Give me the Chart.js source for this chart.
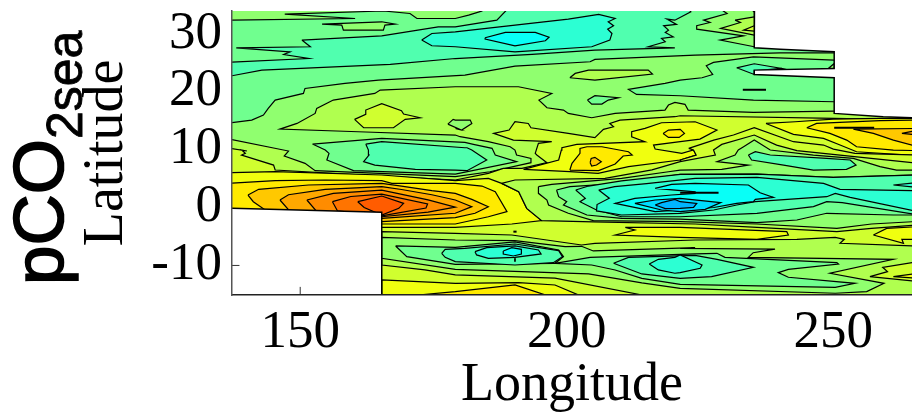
<!DOCTYPE html>
<html><head><meta charset="utf-8">
<script src="https://cdn.jsdelivr.net/npm/chart.js@4"></script>
<style>
html,body{margin:0;padding:0;background:#fff;overflow:hidden}
#wrap{position:relative;width:912px;height:413px}
#ttl{position:absolute;left:0;top:0;white-space:nowrap;font:71px 'Liberation Sans';line-height:77px;color:#000;-webkit-text-stroke:1.6px #000;transform-origin:0 0;transform:translate(0px,285px) rotate(-90deg)}
#ttl span{font-size:50px;position:relative;top:19px;-webkit-text-stroke:0.8px #000}
</style></head><body>
<div id="wrap"><canvas id="c" width="912" height="413"></canvas><div id="ttl">pCO<span>2sea</span></div></div>
<script>
const lonTicks=[150,200,250];
const latTicks=[-10,0,10,20,30];
const xTitle='Longitude', yTitle='Latitude';
const levels={A:'#00B4FF',B:'#00DCFF',C:'#08FFF7',D:'#2CFFD3',E:'#50FFAF',F:'#70FF8F',G:'#90FF6F',H:'#B0FF4F',I:'#D0FF2F',J:'#F0FF0F',K:'#FFEA00',L:'#FFC800',M:'#FFA800',N:'#FF8C00',O:'#FF7400',P:'#FF5C00'};
// contour outlines as lon,lat pairs
const baseF=[136,-16,266,-16,266,35,136,35];
const gTopLeft=[136,35,184.1,35,184.1,33.9,181.6,33.19,179.1,32.61,171.9,32.61,170.6,33.47,165.6,33.9,147.1,33.36,160.3,32.61,136,32.32];
const gSmallTop=[154.1,31.63,157.8,31.46,158.1,30.6,165.6,30.6,165.9,31.46,167.8,31.63,165.3,32.04];
const eNorth=[150.3,28.88,151.9,27.73,138,27.55,148.1,26.86,146.9,26.4,151.6,25.7,136,25.03,136,22.73,137.2,22.73,142.8,23.7,166.9,24.68,179.1,25.7,193.5,26.4,205.3,27.15,220.3,27.55,215.3,27.73,218.5,28.59,217.8,29.16,220,29.45,218.5,30.2,219.1,30.6,218.2,31.35,220.6,31.58,218.8,32.5,220.3,32.32,223.3,33.76,222.2,35,189.7,35,186.9,32.32,179.1,31.17,175.9,31.17,165.3,29.62];
const dNorth=[172.8,28.88,174.7,30.02,179.1,30.31,200.3,32.5,206,33.3,209.1,32.61,207.8,32.04,208.8,31.35,207.7,30.77,208.5,30.02,208.1,28.88,204.7,27.73,190.3,26.86,179.1,27.73,174.7,27.9];
const cNorth=[184.7,29.28,188.5,30.2,194.1,30.2,196.7,29.39,196,28.76,190.3,27.9,184.7,29.05];
const gRightTop=[227.6,35,230.1,33.47,225.7,32.32,226.9,31.92,224.4,31.35,224.4,30.77,233.2,29.62,228.8,28.88,235.2,27.73,240,27.7,240,35];
const hRightTop=[231.6,32.32,232.6,31.92,228.9,30.9,235.2,29.74,240,29.7,240,32.9,235.2,32.9];
const hRightTip=[233.5,35,235.2,33.76,240,33.7,240,35];
const iRightTop=[235.2,31.35,233.2,30.6,235.2,30.43,240,30.4,240,31.35];
const gMain=[136,14.5,140.9,15.08,143.1,15.95,144,17.09,145.3,18.53,150.6,19.68,150.9,20.54,158.4,21.4,164.7,21.98,180.9,22.84,190.3,24.39,204.4,25.14,205.3,25.54,224.1,26.29,240.05,26.69,250.2,26.69,266,26.69,266,-16,136,-16];
const ringTiny=[179.9,18.53,180.2,18.53,180.3,17.8,180,17.5,179.9,17.8];
const hSmall=[200.6,22.38,201.6,23.13,204.1,23.7,215.3,23.7,216.1,23.01,205.3,21.98];
const fTongue=[250.2,25.43,235.05,26,227.55,25.03,226.2,24.45,227.4,22.95,225.4,22.38,221.3,21.98,218.45,21.4,211.6,20.37,213.1,19.51,221.3,19.28,235.05,18.53,250.2,18.24,266,18.2,266,25.4];
const gSlit=[250.2,24.85,249.1,23.99,250.2,23.99];
const ePatchSlit=[231.9,24.1,235.2,24.8,240.4,23.99,235.2,23.6,235.2,22.95];
const fSmall=[203.9,18.53,205.3,19.28,209.7,18.93,207.8,18.53,206.6,17.84,204.7,17.84];
const hMain=[136,11.92,147.8,9.74,147,8.88,150.9,7.61,152.8,6.35,179.1,5.31,185.6,6.17,193.3,7.73,193.3,8.47,190.6,9.05,190.3,9.91,189.4,10.48,185.3,11.35,180,12.21,179.1,12.5,160.9,13.07,146.2,13.53,149.4,14.5,152.8,16.23,153.1,17.09,156.2,18.53,164,19.68,165,20.26,179.1,20.83,190.95,20.83,197.2,19.68,194.8,18.53,196.3,17.21,199.4,16.81,200.3,16.23,204.7,15.48,209.1,16.23,218.45,16.81,219.1,17.67,220.3,18.13,222.2,17.8,222.8,16.81,235.05,16.4,250.2,16.63,266,16.6,266,-16,136,-16];
const iBlob=[160.2,15.2,162.3,16.06,162.3,16.81,165.3,17.9,169,16.69,169.4,16.12,172.5,15.48,169.7,15.2,167.5,13.76,161.9,13.76];
const gSmallMid=[177.7,14.39,178.7,15.2,179.1,15.08,181.9,15.08,182.2,14.5,180.3,13.36,179.1,13.64,180,13.47];
const fTongueWest=[152.3,10.94,165.3,11.92,180.9,11.23,182.5,10.89,186,10.2,186.6,9.05,190.6,7.9,179.1,5.77,160,6.35,155,8.19,155.4,9.34,154.7,9.91];
const eTongueWest=[162.3,10.94,165.3,11.35,180.9,10.31,181.3,10.31,182.2,9.91,185,8.19,181.3,6.35,179.1,6.46,171.6,6.58,164,7.32,161.9,7.9,162.9,9.05,162.8,9.91];
const iMain=[136,10.31,140,9.74,139,9.91,139.7,9.34,139,9.05,145,7.32,145.3,6.46,165.3,5.4,179.1,4.74,185.3,5.89,188.1,6.75,191.6,6.75,196.3,7.73,194.4,9.05,194.1,9.34,194.7,11.06,197.2,11.35,190,11.63,186.3,12.78,189.2,13.36,190.3,14.79,192.8,14.5,193.3,13.76,200.3,12.78,205.3,12.04,206.9,13.47,208.8,13.93,208.1,14.5,210,15.08,220.3,15.66,221.3,15.83,250.2,15.37,266,15.1,266,-16,136,-16];
const jWest=[136,6,145.3,6.17,165.3,5.6,179.1,4.62,185.3,5.02,187.8,4.16,191,2.73,192.5,-0.15,195.3,-2.27,189.7,-2.85,179.1,-3.42,165.3,-3.42,136,-3.42];
const kWest=[136,4.16,145.3,4.62,154.7,4.74,165.3,4.62,167.2,4.16,179.1,4.16,184.1,3.7,186.6,2.73,188.8,-0.72,185.3,-1.6,179.1,-2.85,165.3,-2.85,136,-2.85];
const lWest=[140.2,2.15,142.2,3.13,151.55,3.88,165.3,4.16,169,3.7,174.7,2.9,179.1,2.44,182.2,1.4,185.3,0.14,182.8,-1,179.1,-1.75,165.3,-2.45,143.7,-0.6,141.2,0.99];
const mWest=[146.2,1.29,147.8,2.2,154.7,3.13,165.3,3.6,169,3.1,174.7,2.2,179.1,1.29,182.2,0.14,179.1,-1,165.3,-1.87,148,-0.6];
const nWest=[151.25,1.29,156.2,2.44,165.3,3,174,1.3,179.1,0.05,174,-0.8,165.3,-1.6,153,-0.6];
const oWest=[156.05,1,159.5,1.9,165.3,2.3,173.9,0.6,173.6,-0.1,165.3,-1.45,157,-0.6];
const pWest=[160.8,1,165.3,1.98,169.4,0.71,168.5,-0.15,165.3,-1.3,162,0];
const hSouth=[165.3,-4.17,179.1,-4.46,189.7,-4.75,202.8,-6.47,205.3,-6.18,224.1,-5.61,243.2,-5.49,250.4,-5.15,252.1,-5.49,251.3,-6.18,266,-6.65,266,-16,214.1,-16,214.1,-15.09,197.8,-12.2,179.1,-11.64,173.4,-10.78,165.3,-9.92];
const gSouth=[165.3,-5.15,179.1,-5.61,190.3,-5.72,199.7,-6.76,202.8,-6.7,205,-7.5,224.1,-6.93,221.3,-7.04,239.1,-7.2,235,-7.8,234.1,-8.6,261.3,-8.94,249.4,-11.35,259.55,-13.08,256.3,-14.52,250.4,-14.8,221.3,-13.94,214.1,-13,204.1,-11.47,179.1,-10.67,165.3,-8.77];
const fSouthWest=[167.9,-6.64,170,-8.48,179.1,-9.8,197.8,-9.63,199.4,-8.48,198.5,-7.33,190.3,-5.95,179.1,-6.87];
const eSouthWest=[176.55,-7.91,177.2,-7.22,180.9,-7.04,190.3,-6.3,198.5,-7.45,199.2,-8.48,197.5,-9.52,190.3,-9.92,179.1,-9.34,177.2,-8.6];
const dSouthWest=[182.8,-7.62,185,-6.93,190.3,-6.64,194.7,-7.33,195.2,-8.02,190.3,-8.6,185.3,-8.77,183.1,-8.19];
const cSouthWest=[188.1,-7.5,189.7,-6.93,191.5,-7.22,191.5,-8.02,190,-8.37,188.1,-8.02];
const fSouthEast=[204.4,-8.6,224.1,-8.02,228.2,-7.91,229.7,-8.6,250.7,-9.52,251,-9.75,241.6,-10.67,239.7,-11.24,241.6,-12.04,254.1,-13.08,250.4,-13.77,221.3,-13.25,214.1,-12.22,209.1,-10.78,204.7,-9.92,197.8,-9.63];
const eSouthEast=[208.8,-9.63,211.6,-8.6,224.1,-8.25,228.2,-8.94,235.05,-10.32,227.2,-11.93,221.3,-12.22,214.1,-11.47];
const dSouthEast=[215.5,-9.75,217.2,-8.94,220.3,-8.6,221.3,-8.2,225.4,-9.92,225.05,-10.49,221.3,-11.24,220.3,-11.35,217.2,-10.78];
const iCorner=[256.9,-11.93,260.2,-11.07,259.3,-10.32,266,-9.34,266,-12.79];
const jCorner=[261.3,-11.93,266,-11.35,266,-12.22];
const jBandSouth=[211,-3.42,212.8,-3.88,209.1,-4.75,221.3,-5.15,235.7,-5.49,241.6,-4.75,241.3,-4.17,221.3,-3.42];
const jEastSouth=[257.55,-4.75,260.05,-3.6,266,-3.31,266,-5.49,262.9,-5.49,263.2,-6.18];
const jBottom=[165.3,-12.5,179.1,-13.08,191,-12.96,197.8,-13.37,202.2,-15.09,202.2,-16,165.3,-16];
const kBottom=[179.1,-14.52,190.3,-13.37,196,-15.09,196,-16,172.2,-16,172.2,-15.09];
const jNorthMid=[191.9,6.58,198.5,8.19,199,9.91,199.1,10.31,201.9,10.89,214.7,11.35,212.2,12.21,212.2,13.07,214.7,13.64,217.8,14.62,224.1,14.79,228.2,13.36,225,11.8,221.3,11.35,216.3,10.77,216.6,10.08,221.6,9.34,223.8,9.91,224.3,9.05,221.3,8.19,211.6,7.04,205.9,5.89,200.6,6.17];
const kBlobMid=[200.6,6.46,201,7.61,202.5,9.34,202.5,10.2,203.8,10.48,206.6,10.48,211.6,9.62,212.3,9.05,210.6,8.88,209.1,7.5,206,6.35];
const lBlobMid=[204.4,7.73,204.6,8.47,205.3,8.65,206.5,7.9,205.6,7.32,204.7,7.15];
const kSmallMid=[218.1,12.78,219.1,13.36,221.3,13.47,222.1,12.78,221.1,12.09,219.1,12.09];
const jEast=[237.4,14.5,242.9,14.79,250,15.25,258.8,15.37,266,15.37,266,8.93,254.4,9.62,251.3,10.77,248.2,11.92,242.55,12.61];
const kEast=[245.05,13.76,246.9,14.5,258.8,14.97,266,15.08,266,9.8,261.3,9.91,254.4,10.48,252.55,11.63,249.4,12.78];
const lEast=[253.8,13.53,266,13.64,266,10.48,261.3,11.63,257.55,12.78];
const mEast=[262.9,12.78,266,13.36,266,12.5];
const tentOne=[222.9,10.2,227.6,11.63,231.3,12.5,235.2,13.76,242.55,11.35,248.2,10.77,250.05,10.08,254.1,9.34,266,9.05,266,5,224,5,221.3,8.19,224.3,9.05,223.8,9.91];
const ringZero=[187.8,4.16,190.3,4.74,207.2,5.02,216,6.5,221.3,7.9,227.9,9.05,227.55,9.91,229.1,10.88,235.2,12.5,239.4,10.77,243.2,9.8,251.3,9.05,266,7.61,266,-3.02,257.2,-3.6,250.7,-4.17,235.7,-3.42,224.1,-2.85,205,-2.5,195.3,-2.27,192.5,-0.15,191,2.73];
const ringOne=[194.7,3.59,197.2,3.99,210.3,5.02,219.1,6.17,221.3,6.46,229.1,6.58,234.1,7.32,228.2,7.9,231.6,9.05,232.2,9.91,233.2,10.48,235.2,11.63,238.2,9.91,246.3,9.05,253.8,8.47,258.8,7.04,261.9,6.46,266,6.46,266,-2.4,257.2,-2.85,250.7,-3.6,235.7,-2.85,221.3,-2.45,205,-2.27,200.3,-1,196.6,0.43,196.3,1.29,194.7,2.44];
const ePatchTent=[234.1,9.05,235.4,9.62,238.2,9.05,248.8,8.47,253.2,8.19,254.3,7.32,252.5,6.58,246.3,6.46,240.7,7.32,234.7,8.19];
const ringTwo=[198.1,3.01,200.6,3.59,210.3,4.16,221.3,5.7,235.7,5.77,250,5.2,266,5.6,266,-1.3,261.3,-1.3,248.8,-1,243.2,-2.16,235.7,-2.6,221.3,-2,210.3,-1.87,203.8,-1.3,199.4,0.43,200,1,198.5,1.86];
const ringThree=[201.7,3.01,204.1,3.7,210.3,4.6,221.3,5.7,235.7,5.77,250,5.2,266,5.6,266,-1.3,251.7,0.83,248.8,1,246.3,0.14,235.7,-1,221.3,-1.6,210.3,-1.6,205.6,-0.43,202.5,1,203.5,1.58];
const ringFour=[206,3,209,3.6,215,4.1,224.1,5.02,235.7,5.2,248.2,4.16,251.3,3.13,266,2.9,266,-0.72,253.2,1.75,250.4,2.44,248.8,1.86,235.4,1,231.9,0.43,227.6,-0.43,221.3,-1,210.3,-1.3,205.6,-0.6,205.7,0.5,208,1.6];
const dTipEast=[261.3,3.88,266,4.3,266,3.45];
const coreC=[216.6,3.3,219.7,4,224.1,4.16,234.1,3.88,236.3,2.55,238.8,1.75,235.4,1.4,235.05,1,231.9,0.71,227.6,0,221.3,-0.43,216.6,-0.72,209.1,0.71,212.8,1.58,219.7,2.15,224.1,2.44,224.1,2.7];
const coreB=[212.8,0.71,216.6,1.29,221.3,1.58,228.9,0.83,226,-0.32,221.3,-0.72,217.8,-0.43];
const coreA=[216.6,0.43,217.8,0.83,220.3,1.4,221.3,1,224.4,0.71,223.8,0.03,221.3,-0.15,218.5,-0.2];
const maskNorth=[235.25,36,235.2,27.55,240.05,27.3,250.2,26.86,250.2,23.99,235.2,23.7,235.2,22.95,250.2,22.38,250.2,16.23,259.4,15.66,264.8,15.48,267,15.4,267,36];
const maskSouth=[136,-0.15,137.2,-0.15,165.3,-0.84,165.3,-16,136,-16];
// degenerate contour fragments and ticks seen only over the masks
const stubA=[233.05,20.31,237.4,20.31];
const stubB=[250.2,13.76,257.7,13.76];
const stubC=[221.3,2.55,228.5,2.55];
const stubD=[190,-4.17,190.6,-4.17];
const stubE=[190.3,-8.77,190.3,-9.34];
const tickLon=[150,-15.1,150,-13.7];
const tickLat=[137.2,-10,138.6,-10];

const layers=[[baseF,'F',0],[gTopLeft,'G'],[gSmallTop,'G'],[eNorth,'E'],[dNorth,'D'],[cNorth,'C'],[gRightTop,'G'],[hRightTop,'H'],[hRightTip,'H'],[iRightTop,'I'],[gMain,'G'],[ringTiny,'F'],[hSmall,'H'],[fTongue,'F'],[gSlit,'G'],[ePatchSlit,'E'],[fSmall,'F'],[hMain,'H'],[iBlob,'I'],[gSmallMid,'G'],[fTongueWest,'F'],[eTongueWest,'E'],[iMain,'I'],[jWest,'J'],[kWest,'K'],[lWest,'L'],[mWest,'M'],[nWest,'N'],[oWest,'O'],[pWest,'P'],[hSouth,'H'],[gSouth,'G'],[fSouthWest,'F'],[eSouthWest,'E'],[dSouthWest,'D'],[cSouthWest,'C'],[fSouthEast,'F'],[eSouthEast,'E'],[dSouthEast,'D'],[iCorner,'I'],[jCorner,'J'],[jBandSouth,'J'],[jEastSouth,'J'],[jBottom,'J'],[kBottom,'K'],[jNorthMid,'J'],[kBlobMid,'K'],[lBlobMid,'L'],[kSmallMid,'K'],[jEast,'J'],[kEast,'K'],[lEast,'L'],[mEast,'M'],[tentOne,'I'],[ringZero,'H'],[ringOne,'G'],[ePatchTent,'E'],[ringTwo,'F'],[ringThree,'E'],[ringFour,'D'],[dTipEast,'D'],[coreC,'C'],[coreB,'B'],[coreA,'A']];
const pts=a=>{const o=[];for(let i=0;i<a.length;i+=2)o.push({x:a[i],y:a[i+1]});return o;};
const closed=a=>{const p=pts(a);p.push(p[0]);return p;};
const datasets=[];
layers.forEach(([a,c,bw])=>datasets.push({type:'scatter',showLine:true,data:closed(a),backgroundColor:levels[c],borderColor:'#000',borderWidth:bw===0?0:1.2,fill:'shape',tension:0,pointRadius:0,pointHoverRadius:0}));
[[stubA,2],[stubB,2],[stubC,2],[stubD,2],[stubE,1]].forEach(([a,w])=>datasets.push({type:'scatter',showLine:true,data:pts(a),borderColor:'#000',borderWidth:w,fill:false,pointRadius:0}));
[[maskNorth],[maskSouth]].forEach(([a])=>datasets.push({type:'scatter',showLine:true,data:closed(a),backgroundColor:'#fff',borderColor:'#000',borderWidth:1.5,fill:'shape',tension:0,pointRadius:0}));
[tickLon,tickLat].forEach(a=>datasets.push({type:'scatter',showLine:true,data:pts(a),borderColor:'#333',borderWidth:1,fill:false,pointRadius:0}));
datasets.forEach((d,i)=>{d.order=datasets.length-i;});

const noPad=s=>{s.paddingTop=0;s.paddingBottom=0;s.paddingLeft=0;s.paddingRight=0;};
new Chart(document.getElementById('c'),{
 type:'scatter',
 data:{datasets},
 options:{
  responsive:false,animation:false,events:[],
  layout:{padding:{top:11,left:0,right:0,bottom:0}},
  plugins:{legend:{display:false},tooltip:{enabled:false},title:{display:false}},
  scales:{
   x:{type:'linear',min:137.2,max:264.8,
      afterBuildTicks(s){s.ticks=lonTicks.map(v=>({value:v}));},
      afterFit(s){s.height=118;noPad(s);},
      grid:{display:false,drawTicks:false},
      border:{display:true,color:'#222',width:1.5,z:1},
      ticks:{color:'#000',font:{family:'Liberation Serif',size:53},padding:6,maxRotation:0,autoSkip:false,callback:v=>String(v)},
      title:{display:true,text:xTitle,color:'#000',font:{family:'Liberation Serif',size:54},padding:{top:0,bottom:-5}}},
   y:{type:'linear',min:-15.1,max:33.9,
      afterBuildTicks(s){s.ticks=latTicks.map(v=>({value:v}));},
      afterFit(s){s.width=232;noPad(s);},
      grid:{display:false,drawTicks:false},
      border:{display:true,color:'#555',width:1.5,z:1},
      ticks:{color:'#000',font:{family:'Liberation Serif',size:53},padding:10,autoSkip:false,callback:v=>String(v)},
      title:{display:true,text:yTitle,color:'#000',font:{family:'Liberation Serif',size:56},padding:{top:74,bottom:0}}}
  }
 }
});
</script></body></html>
